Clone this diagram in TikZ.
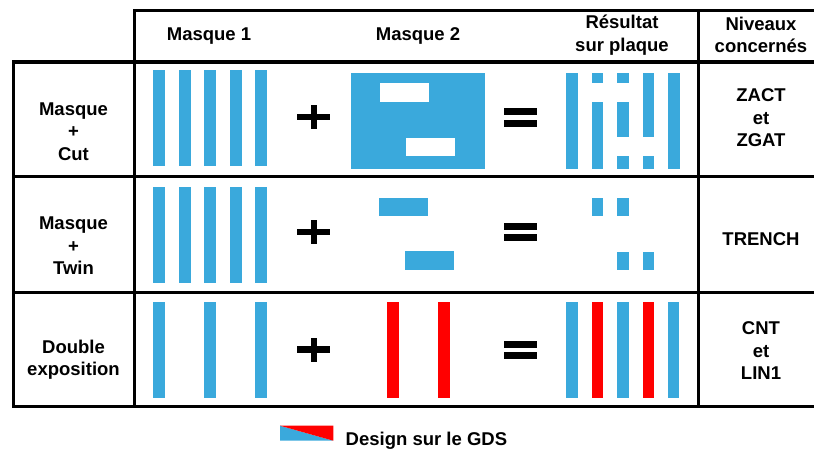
\documentclass[tikz,border=0pt]{standalone}
\usepackage{fontspec}
\setmainfont{Liberation Sans}
\usepackage{tikz}
\usepackage{xcolor}
\usetikzlibrary{positioning}
\definecolor{Bleu}{RGB}{58,169,220}
\definecolor{Rouge}{RGB}{255,0,0}

\begin{document}
\begin{tikzpicture}[x=1pt,y=-1pt,
    every node/.style={font=\fontsize{18.5}{22.5}\selectfont\bfseries, align=center, inner sep=0pt},
    trait/.style={line width=3.3pt, line cap=rect}]
  \useasboundingbox (0,0) rectangle (814,448);
  \clip (0,0) rectangle (814,448);
  % grille du tableau
  \draw[trait] (134.3,10.3) -- (820,10.3);
  \foreach \y in {62,176.8,292.3,406.5}
    \draw[trait] (13.5,\y) -- (820,\y);
  \draw[trait] (13.5,62) -- (13.5,406.5);
  \foreach \x in {134.3,698.7}
    \draw[trait] (\x,10.3) -- (\x,406.5);
  % en-tetes
  \node (m1) at (209,36) {Masque 1};
  \node (m2) at (418,36) {Masque 2};
  \node (res) at (622,35) {Résultat\\sur plaque};
  \node (niv) at (761,35) {Niveaux\\concernés};
  \node (cut) at (73.5,131.5) {Masque\\+\\Cut};
  \node (twin) at (73.5,246) {Masque\\+\\Twin};
  \node (dbl) at (73.5,359.5) {Double\\exposition};
  \node (zact) at (761,118) {ZACT\\et\\ZGAT};
  \node (trench) at (761,239) {TRENCH};
  \node (cnt) at (761,351) {CNT\\et\\LIN1};
  % masque 1
  \foreach \x in {153,178.5,204,229.5,255} {
    \fill[Bleu] (\x,70) rectangle ++(12,96);
    \fill[Bleu] (\x,187) rectangle ++(12,96);
  }
  \foreach \x in {153,204,255}
    \fill[Bleu] (\x,302) rectangle ++(12,96);
  % masque 2
  \fill[Bleu] (351,73) rectangle (485,169);
  \fill[white] (380,83) rectangle (429,101.7);
  \fill[white] (406,138) rectangle (455,155.7);
  \fill[Bleu] (379,197.7) rectangle (428,215.7);
  \fill[Bleu] (405,250.7) rectangle (454,270);
  \foreach \x in {387,438}
    \fill[Rouge] (\x,302) rectangle ++(12,96);
  % plus et egal
  \foreach \y in {117,232,349.5} {
    \fill (296.7,\y-3.3) rectangle (330,\y+3.3);
    \fill (310.6,\y-12) rectangle (317.4,\y+12);
  }
  \foreach \y in {117.8,232,350} {
    \fill (504,\y-9.4) rectangle (537,\y-2.4);
    \fill (504,\y+2.2) rectangle (537,\y+9.4);
  }
  % resultat sur plaque
  \foreach \x/\a/\b in {566/72.7/169, 591.5/72.7/83.3, 591.5/101.7/169,
      617/72.7/83.3, 617/101.7/137.3, 617/155.7/169,
      642.5/72.7/137.3, 642.5/155.7/169, 668/72.7/169,
      591.5/197.7/215.7, 617/197.7/215.7, 617/251.7/270, 642.5/251.7/270}
    \fill[Bleu] (\x,\a) rectangle (\x+11.5,\b);
  \foreach \x/\c in {566/Bleu,591.5/Rouge,617/Bleu,642.5/Rouge,667.5/Bleu}
    \fill[\c] (\x,302) rectangle ++(11.5,96);
  % legende
  \fill[Bleu] (280,425.7) -- (333.3,440.7) -- (280,440.7) -- cycle;
  \fill[Rouge] (280,425.7) -- (333.3,425.7) -- (333.3,440.7) -- cycle;
  \node[anchor=base west] (gds) at (345.5,445) {Design sur le GDS};
\end{tikzpicture}
\end{document}
